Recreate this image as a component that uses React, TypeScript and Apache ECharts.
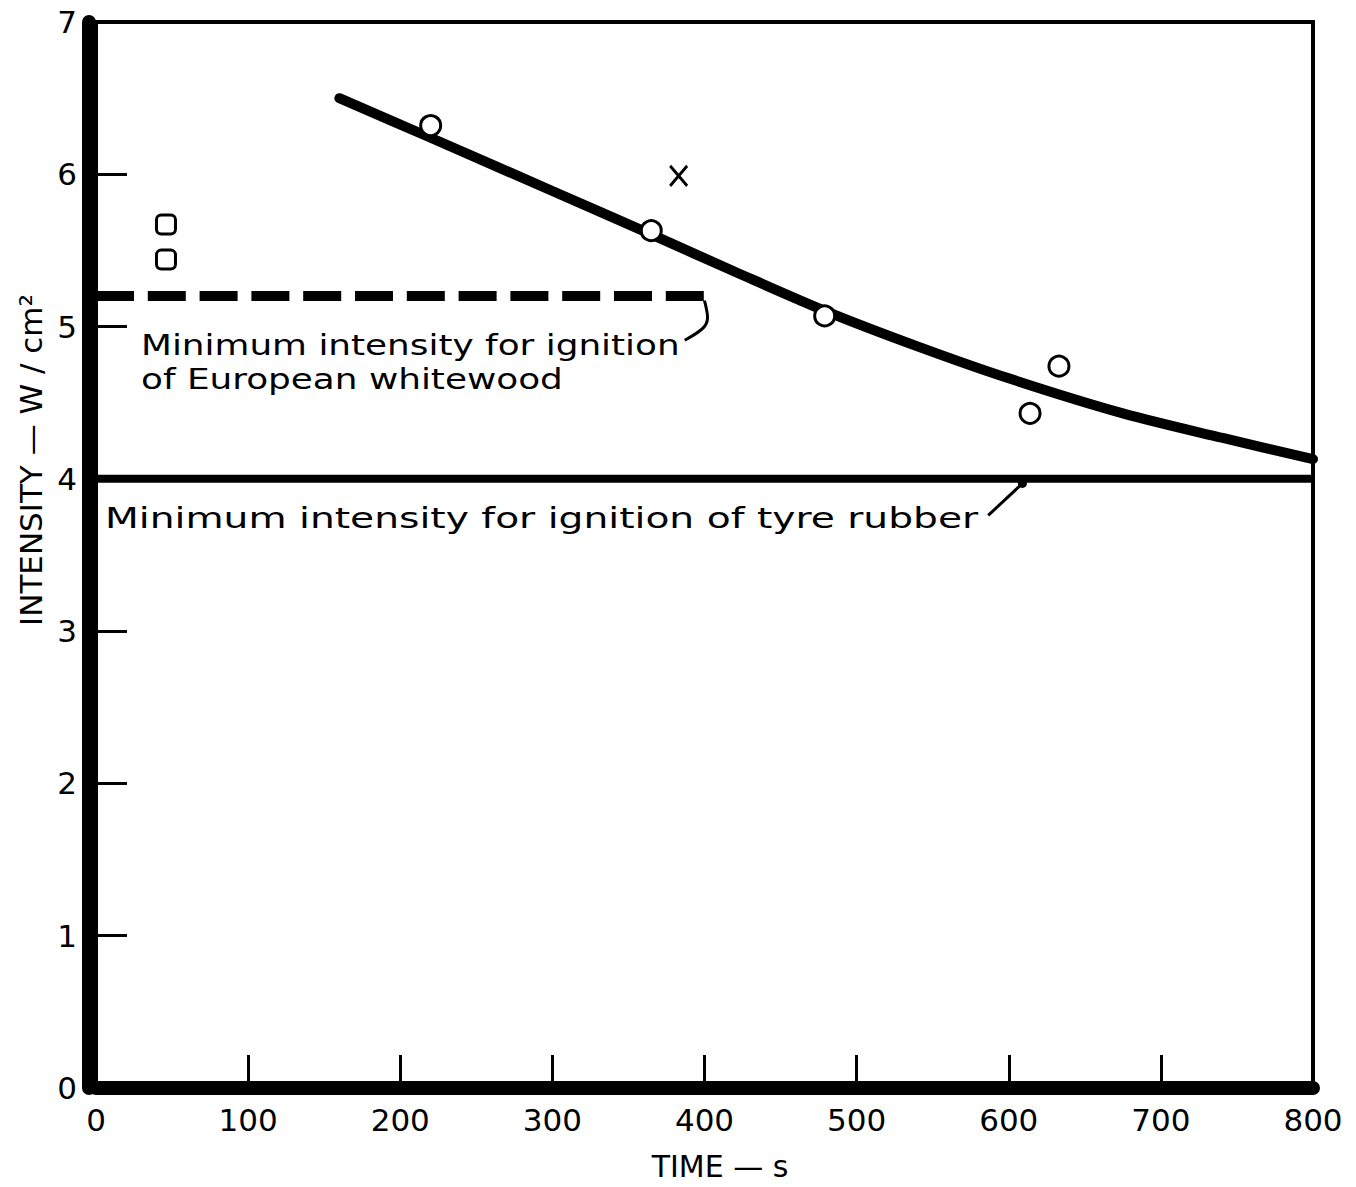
import React, { useEffect, useRef } from "react";
import * as echarts from "echarts";

// Data
const curvePoints: [number, number][] = [
  [160, 6.5], [220, 6.24], [300, 5.89], [365, 5.605], [420, 5.36],
  [480, 5.1], [540, 4.87], [600, 4.66], [675, 4.43], [740, 4.27], [800, 4.13],
];
const circlePoints: [number, number][] = [
  [220, 6.32], [365, 5.63], [479, 5.07], [614, 4.43], [633, 4.74],
];
const crossPoints: [number, number][] = [[383, 5.99]];
const squarePoints: [number, number][] = [[46, 5.67], [46, 5.44]];
const whitewoodLevel: [number, number][] = [[0, 5.2], [400, 5.2]];
const tyreLevel: [number, number][] = [[0, 4.0], [800, 4.0]];
const whitewoodLeader: [number, number][] = [[400, 5.17], [402, 5.06], [399, 4.99], [387, 4.91]];
const tyreLeader: [number, number][] = [[586.5, 3.76], [609, 3.97]];
const xTicks = [0, 100, 200, 300, 400, 500, 600, 700, 800];
const yTicks = [0, 1, 2, 3, 4, 5, 6, 7];

const FONT = "DejaVu Sans";

export default function App() {
  const ref = useRef<HTMLDivElement>(null);
  useEffect(() => {
    if (!ref.current) return;
    const chart = echarts.init(ref.current, undefined, { renderer: "svg" });
    const textStyle = (text: string, size: number) => ({
      text,
      font: `${size}px "${FONT}"`,
      fill: "#000",
      textAlign: "left",
      textVerticalAlign: "middle",
    });
    chart.setOption({
      animation: false,
      backgroundColor: "#fff",
      grid: {
        left: 96, right: 43, top: 22, bottom: 99,
        show: true, borderColor: "#000", borderWidth: 4,
      },
      xAxis: {
        type: "value", min: 0, max: 800, interval: 100,
        axisLine: { lineStyle: { color: "#000", width: 14 } },
        axisTick: { inside: true, length: 33, lineStyle: { color: "#000", width: 3 } },
        axisLabel: {
          color: "#000", fontSize: 31, fontFamily: FONT, margin: 16,
          formatter: (v: number) => (xTicks.includes(v) ? String(v) : ""),
        },
        splitLine: { show: false },
      },
      yAxis: {
        type: "value", min: 0, max: 7, interval: 1, offset: 7,
        axisLine: { onZero: false, lineStyle: { color: "#000", width: 14 } },
        axisTick: { inside: true, length: 38, lineStyle: { color: "#000", width: 3 } },
        axisLabel: {
          color: "#000", fontSize: 31, fontFamily: FONT, margin: 12,
          formatter: (v: number) => (yTicks.includes(v) ? String(v) : ""),
        },
        splitLine: { show: false },
      },
      series: [
        {
          type: "line", data: curvePoints, smooth: 0.3, symbol: "none",
          lineStyle: { color: "#000", width: 10, cap: "round" },
        },
        {
          type: "line", data: whitewoodLevel, symbol: "none",
          lineStyle: { color: "#000", width: 10, type: [38, 13.8] },
        },
        {
          type: "line", data: tyreLevel, symbol: "none",
          lineStyle: { color: "#000", width: 8 },
        },
        {
          type: "line", data: whitewoodLeader, symbol: "none", smooth: 0.3,
          lineStyle: { color: "#000", width: 3 },
        },
        {
          type: "line",
          data: tyreLeader.map((p, i) => ({ value: p, symbol: i === tyreLeader.length - 1 ? "circle" : "none", symbolSize: 9 })),
          showSymbol: true,
          itemStyle: { color: "#000" },
          lineStyle: { color: "#000", width: 3 },
        },
        {
          type: "scatter", data: circlePoints, symbol: "circle", symbolSize: 20,
          itemStyle: { color: "#fff", borderColor: "#000", borderWidth: 3, opacity: 1 },
          z: 5,
        },
        {
          type: "scatter", data: squarePoints, symbol: "roundRect", symbolSize: 19,
          itemStyle: { color: "#fff", borderColor: "#000", borderWidth: 3, opacity: 1 },
          z: 5,
        },
        {
          type: "scatter", data: crossPoints, symbol: "path://M0,0L9,11M9,0L0,11", symbolSize: [17, 20],
          itemStyle: { color: "none", borderColor: "#000", borderWidth: 3, opacity: 1 },
          z: 5,
        },
      ],
      graphic: [
        { type: "text", x: 141, y: 345, scaleX: 1.28, style: textStyle("Minimum intensity for ignition", 28), z: 10 },
        { type: "text", x: 141, y: 379, scaleX: 1.28, style: textStyle("of European whitewood", 28), z: 10 },
        { type: "text", x: 105, y: 518, scaleX: 1.40, style: textStyle("Minimum intensity for ignition of tyre rubber", 28), z: 10 },
        {
          type: "text", x: 720, y: 1166,
          style: { text: "TIME — s", font: `30px "${FONT}"`, fill: "#000", textAlign: "center", textVerticalAlign: "middle" },
        },
        {
          type: "text", x: 31, y: 460, rotation: Math.PI / 2,
          style: { text: "INTENSITY — W / cm²", font: `31px "${FONT}"`, fill: "#000", textAlign: "center", textVerticalAlign: "middle" },
        },
      ],
    });
    return () => chart.dispose();
  }, []);
  return (
    <div
      ref={ref}
      style={{ position: "absolute", left: 0, top: 0, width: 1356, height: 1187, background: "#fff" }}
    />
  );
}
